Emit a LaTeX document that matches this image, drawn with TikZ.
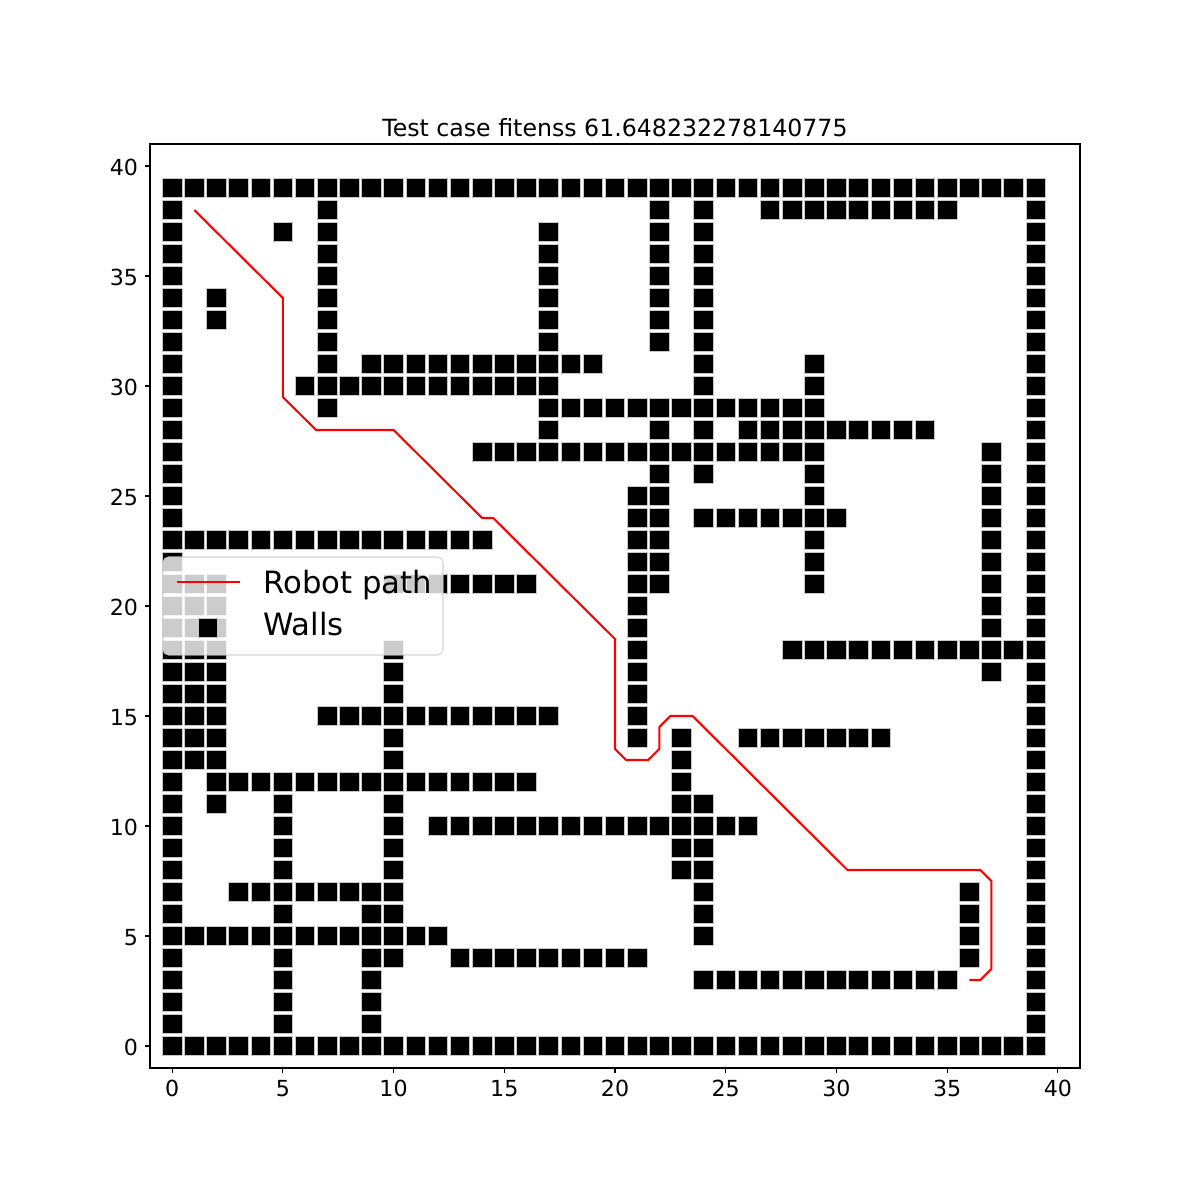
\documentclass[tikz,border=0pt]{standalone}
\usepackage{fontspec}
\setmainfont{DejaVu Sans}
% one row of wall cells: #1 = row, #2 = list of first/last columns
\newcommand{\wallrow}[2]{%
  \foreach \a/\b in {#2}{\foreach \x in {\a,...,\b}{%
    \filldraw[wall] (\x-0.44,#1-0.44) rectangle (\x+0.44,#1+0.44);}}}
\begin{document}
\begin{tikzpicture}[x=15.943bp,y=15.84bp,line join=bevel,
  wall/.style={fill=black,draw=black!22,line width=0.5bp},
  robot/.style={draw=red,line width=1.5bp,line join=miter},
  ticklabel/.style={inner sep=0pt,font=\fontsize{16}{19}\selectfont},
  legendlabel/.style={inner sep=0pt,anchor=base west,font=\fontsize{22.2}{26}\selectfont},
  ]
\useasboundingbox (-7.774,-7) rectangle (46.419,47.545);
%% walls
\wallrow{39}{0/39}
\wallrow{38}{0/0,7/7,22/22,24/24,27/35,39/39}
\wallrow{37}{0/0,5/5,7/7,17/17,22/22,24/24,39/39}
\wallrow{36}{0/0,7/7,17/17,22/22,24/24,39/39}
\wallrow{35}{0/0,7/7,17/17,22/22,24/24,39/39}
\wallrow{34}{0/0,2/2,7/7,17/17,22/22,24/24,39/39}
\wallrow{33}{0/0,2/2,7/7,17/17,22/22,24/24,39/39}
\wallrow{32}{0/0,7/7,17/17,22/22,24/24,39/39}
\wallrow{31}{0/0,7/7,9/19,24/24,29/29,39/39}
\wallrow{30}{0/0,6/17,24/24,29/29,39/39}
\wallrow{29}{0/0,7/7,17/29,39/39}
\wallrow{28}{0/0,17/17,22/22,24/24,26/34,39/39}
\wallrow{27}{0/0,14/29,37/37,39/39}
\wallrow{26}{0/0,22/22,24/24,29/29,37/37,39/39}
\wallrow{25}{0/0,21/22,29/29,37/37,39/39}
\wallrow{24}{0/0,21/22,24/30,37/37,39/39}
\wallrow{23}{0/14,21/22,29/29,37/37,39/39}
\wallrow{22}{0/0,21/22,29/29,37/37,39/39}
\wallrow{21}{0/2,10/16,21/22,29/29,37/37,39/39}
\wallrow{20}{0/2,21/21,37/37,39/39}
\wallrow{19}{0/2,21/21,37/37,39/39}
\wallrow{18}{0/2,10/10,21/21,28/39}
\wallrow{17}{0/2,10/10,21/21,37/37,39/39}
\wallrow{16}{0/2,10/10,21/21,39/39}
\wallrow{15}{0/2,7/17,21/21,39/39}
\wallrow{14}{0/2,10/10,21/21,23/23,26/32,39/39}
\wallrow{13}{0/2,10/10,23/23,39/39}
\wallrow{12}{0/0,2/16,23/23,39/39}
\wallrow{11}{0/0,2/2,5/5,10/10,23/24,39/39}
\wallrow{10}{0/0,5/5,10/10,12/26,39/39}
\wallrow{9}{0/0,5/5,10/10,23/24,39/39}
\wallrow{8}{0/0,5/5,10/10,23/24,39/39}
\wallrow{7}{0/0,3/10,24/24,36/36,39/39}
\wallrow{6}{0/0,5/5,9/10,24/24,36/36,39/39}
\wallrow{5}{0/12,24/24,36/36,39/39}
\wallrow{4}{0/0,5/5,9/10,13/21,36/36,39/39}
\wallrow{3}{0/0,5/5,9/9,24/35,39/39}
\wallrow{2}{0/0,5/5,9/9,39/39}
\wallrow{1}{0/0,5/5,9/9,39/39}
\wallrow{0}{0/39}
%% robot path
\draw[robot] plot coordinates {(1,38) (5,34) (5,29.5) (6.5,28) (10,28) (14,24)
  (14.5,24) (20,18.5) (20,13.5) (20.5,13) (21.5,13) (22,13.5) (22,14.5)
  (22.5,15) (23.5,15) (30.5,8) (36.5,8) (37,7.5) (37,3.5) (36.5,3) (36,3)};
%% axes
\draw[line width=0.8bp,line join=miter] (-1,-1) rectangle (41,41);
\foreach \t in {0,5,...,40}{
  \draw[line width=0.8bp] (\t,-1) -- ++(0,-3.5bp);
  \draw[line width=0.8bp] (-1,\t) -- ++(-3.5bp,0);
  \node[ticklabel,anchor=base] (xtick_\t) at (\t,-2.28) {\t};
  \node[ticklabel,anchor=base east] (ytick_\t) at (-1.527,\t-0.4545) {\t};
}
\node[inner sep=0pt,anchor=base,font=\fontsize{17.1}{20}\selectfont] (title) at (20,41.318)
  {Test case fitenss 61.648232278140775};
%% legend
\filldraw[fill=white,draw=black!20,opacity=0.8,rounded corners=4bp,line width=0.8bp]
  (-0.413,17.773) rectangle (12.232,22.227);
\coordinate (leg_a) at (0.223,21.09);
\coordinate (leg_b) at (3.065,21.09);
\draw[robot] (leg_a) -- (leg_b);
\filldraw[wall] (1.62-0.44,19-0.44) rectangle (1.62+0.44,19+0.44);
\node[legendlabel] (leg_path) at (4.103,20.59) {Robot path};
\node[legendlabel] (leg_walls) at (4.103,18.636) {Walls};
%
\end{tikzpicture}
\end{document}
